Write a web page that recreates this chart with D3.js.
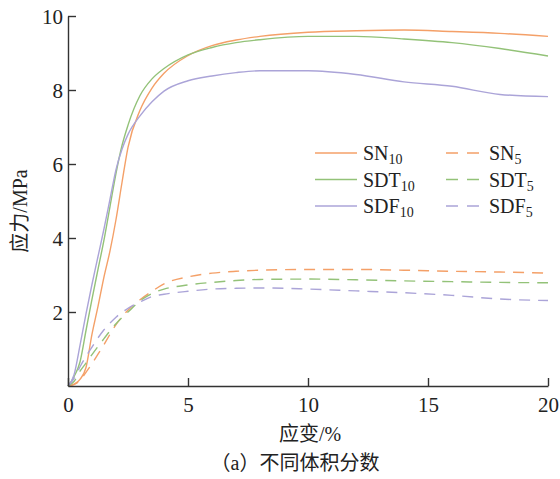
<!DOCTYPE html>
<html>
  <head>
    <meta charset="UTF-8">
    <script src="https://d3js.org/d3.v7.min.js"></script>
    <style>
      body { margin: 0; background: #fff; }
    </style>
  </head>
  <body>
    <div id="chart"></div>
    <script>
      // strain grid (%) shared by every curve
      const strain = [0, 0.25, 0.5, 0.75, 1, 1.25, 1.5, 1.75, 2, 2.25, 2.5, 3, 3.5, 4, 5, 6, 7, 8, 10, 12, 14, 16, 18, 20];

      // stress (MPa)
      const SN10  = [0, 0.05, 0.18, 0.5, 1.4, 2.15, 2.95, 3.65, 4.5, 5.5, 6.45, 7.45, 8.05, 8.45, 8.93, 9.2, 9.35, 9.45, 9.56, 9.6, 9.62, 9.58, 9.53, 9.45];
      const SDT10 = [0, 0.25, 0.65, 1.5, 2.35, 3.15, 3.95, 4.85, 5.75, 6.5, 7.05, 7.85, 8.3, 8.58, 8.95, 9.15, 9.28, 9.36, 9.45, 9.45, 9.38, 9.28, 9.12, 8.92];
      const SDF10 = [0, 0.3, 1.1, 1.95, 2.75, 3.5, 4.25, 5.05, 5.85, 6.4, 6.8, 7.3, 7.68, 7.97, 8.25, 8.38, 8.47, 8.52, 8.52, 8.42, 8.22, 8.1, 7.88, 7.82];
      const SN5   = [0, 0.04, 0.15, 0.37, 0.6, 0.86, 1.12, 1.4, 1.66, 1.87, 2.05, 2.33, 2.56, 2.76, 2.95, 3.05, 3.1, 3.13, 3.15, 3.15, 3.13, 3.1, 3.08, 3.05];
      const SDT5  = [0, 0.12, 0.4, 0.62, 0.85, 1.07, 1.28, 1.49, 1.68, 1.85, 2.0, 2.3, 2.5, 2.62, 2.73, 2.8, 2.85, 2.88, 2.89, 2.87, 2.84, 2.82, 2.8, 2.79];
      const SDF5  = [0, 0.2, 0.52, 0.8, 1.05, 1.3, 1.52, 1.7, 1.86, 1.99, 2.1, 2.27, 2.42, 2.48, 2.56, 2.62, 2.64, 2.65, 2.62, 2.57, 2.52, 2.45, 2.35, 2.31];

      const xTicks = [0, 5, 10, 15, 20];
      const yTicks = [2, 4, 6, 8, 10];

      const series = [
        { name: "SN", sub: "10", values: SN10, color: "#f4a068", dashed: false },
        { name: "SDT", sub: "10", values: SDT10, color: "#93c278", dashed: false },
        { name: "SDF", sub: "10", values: SDF10, color: "#aba4d8", dashed: false },
        { name: "SN", sub: "5", values: SN5, color: "#f4a068", dashed: true },
        { name: "SDT", sub: "5", values: SDT5, color: "#93c278", dashed: true },
        { name: "SDF", sub: "5", values: SDF5, color: "#aba4d8", dashed: true }
      ];

      const FONT = "Liberation Serif";

      const W = 560, H = 479;
      const margin = { top: 16, right: 12, bottom: 93, left: 68 };
      const width = W - margin.left - margin.right,
        height = H - margin.top - margin.bottom;

      const svg = d3.select("#chart")
        .append("svg")
        .attr("width", W)
        .attr("height", H);

      const g = svg.append("g")
        .attr("transform", `translate(${margin.left}, ${margin.top})`);

      const x = d3.scaleLinear().domain([0, 20]).range([0, width]);
      const y = d3.scaleLinear().domain([0, 10]).range([height, 0]);

      // curves
      const line = d3.line()
        .x((d, i) => x(strain[i]))
        .y(d => y(d))
        .curve(d3.curveMonotoneX);

      g.selectAll(".curve")
        .data(series)
        .join("path")
        .attr("class", "curve")
        .attr("fill", "none")
        .attr("stroke", d => d.color)
        .attr("stroke-width", 1.4)
        .attr("stroke-dasharray", d => d.dashed ? "11,8" : null)
        .attr("d", d => line(d.values));

      // axes, ticks pointing inward
      const xAxis = g.append("g")
        .attr("transform", `translate(0, ${height})`)
        .call(d3.axisBottom(x).tickValues(xTicks).tickSize(-8).tickPadding(11).tickSizeOuter(0));
      const yAxis = g.append("g")
        .call(d3.axisLeft(y).tickValues(yTicks).tickSize(-8).tickPadding(5).tickSizeOuter(0));

      [xAxis, yAxis].forEach(a => {
        a.attr("font-family", FONT).attr("font-size", 21).attr("text-anchor", "start");
        a.select(".domain").attr("stroke", "#333").attr("stroke-width", 1.4);
        a.selectAll(".tick line").attr("stroke", "#333").attr("stroke-width", 1.4);
        a.selectAll(".tick text")
          .attr("font-family", FONT)
          .attr("font-size", 21)
          .attr("text-anchor", "start")
          .attr("fill", "#222");
      });
      // place labels by measured width instead of anchors
      xAxis.selectAll(".tick text").each(function () {
        const w = this.getComputedTextLength();
        d3.select(this).attr("x", -w / 2);
      });
      yAxis.selectAll(".tick text").each(function () {
        const w = this.getComputedTextLength();
        d3.select(this).attr("x", -5 - w).attr("dy", "0.34em");
      });

      // legend
      const legend = g.append("g");
      series.forEach((s, i) => {
        const col = s.dashed ? 1 : 0, row = i % 3;
        const lx = col === 0 ? 247 : 378;
        const ly = 137 + row * 26.5;
        const len = col === 0 ? 42 : 33;
        legend.append("line")
          .attr("x1", lx).attr("x2", lx + len)
          .attr("y1", ly).attr("y2", ly)
          .attr("stroke", s.color)
          .attr("stroke-width", 1.4)
          .attr("stroke-dasharray", s.dashed ? "12,9" : null);
        const t = legend.append("text")
          .attr("x", lx + len + (col === 0 ? 6 : 10))
          .attr("y", ly + 7)
          .attr("fill", "#222")
          .attr("font-family", FONT)
          .attr("font-size", 20);
        t.append("tspan").text(s.name);
        t.append("tspan").attr("dy", 4).attr("font-size", 14).text(s.sub);
      });

      // titles: CJK part and Latin part as separate spans, start-anchored
      function title(parts, cx, cy, rotate) {
        const t = svg.append("text")
          .attr("fill", "#222")
          .attr("font-size", 20);
        parts.forEach(p => t.append("tspan")
          .attr("font-family", p.cjk ? "Noto Sans CJK SC" : FONT)
          .text(p.s));
        const w = t.node().getComputedTextLength();
        if (rotate) {
          t.attr("transform", `translate(${cx}, ${cy}) rotate(-90)`).attr("x", -w / 2).attr("y", 0);
        } else {
          t.attr("x", cx - w / 2).attr("y", cy);
        }
      }

      title([{ s: "应力", cjk: true }, { s: "/MPa" }], 27, 211, true);
      title([{ s: "应变", cjk: true }, { s: "/%" }], 310, 441, false);
      title([{ s: "（", cjk: true }, { s: "a" }, { s: "）不同体积分数", cjk: true }], 295, 470, false);
    </script>
  </body>
</html>
